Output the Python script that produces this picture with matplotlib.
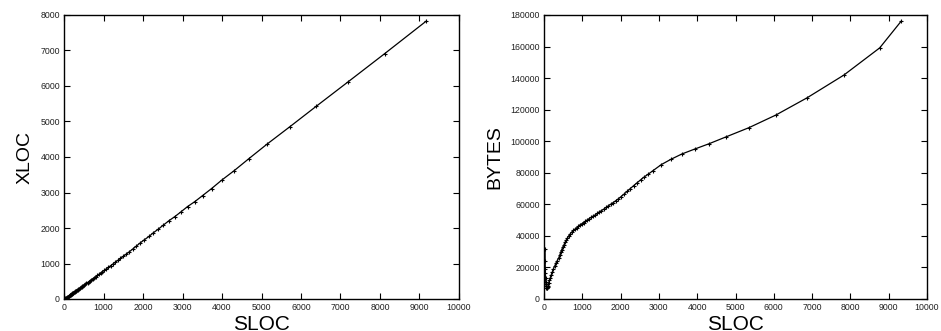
import numpy as np
import matplotlib
matplotlib.use("Agg")
import matplotlib.pyplot as plt

plt.rcParams['font.family'] = ['Liberation Sans', 'DejaVu Sans']

# left panel: SLOC vs XLOC
sloc_x = [15, 28, 40, 53, 65, 78, 90, 103, 115, 128, 140, 153, 165, 178, 190, 203,
          215, 228, 240, 255, 270, 285, 300, 315, 330, 350, 365, 385, 405, 425, 445,
          465, 490, 515, 540, 565, 595, 625, 655, 690, 725, 760, 800, 840, 880, 925,
          970, 1020, 1070, 1125, 1180, 1240, 1300, 1365, 1430, 1500, 1575, 1653, 1737,
          1821, 1922, 2032, 2150, 2260, 2386, 2513, 2664, 2808, 2960, 3128, 3314, 3508,
          3735, 3988, 4309, 4680, 5143, 5717, 6391, 7192, 8120, 9174]
xloc = [8, 16, 24, 33, 42, 52, 61, 70, 80, 89, 99, 108, 118, 128, 137, 148,
        157, 167, 177, 189, 200, 212, 224, 236, 248, 264, 276, 292, 308, 324, 340,
        357, 377, 397, 418, 438, 462, 487, 511, 539, 568, 596, 629, 662, 694, 731,
        767, 808, 849, 894, 939, 988, 1038, 1091, 1145, 1202, 1265, 1330, 1405,
        1480, 1574, 1667, 1761, 1864, 1967, 2080, 2211, 2323, 2454, 2604, 2745, 2913,
        3110, 3344, 3616, 3953, 4365, 4852, 5433, 6117, 6913, 7831]

# right panel: SLOC vs BYTES
sloc_b = [28, 30, 33, 36, 40, 45, 50, 55, 62, 70, 80, 92, 104, 120, 139, 165, 191,
          217, 243, 278, 313, 348, 383, 410, 435, 460, 487, 518, 548, 578, 609, 643,
          678, 720, 765, 808, 852, 895, 939, 987, 1035, 1083, 1130, 1183, 1235, 1287,
          1339, 1391, 1443, 1500, 1557, 1617, 1678, 1743, 1809, 1874, 1939, 2013, 2087,
          2170, 2252, 2339, 2426, 2522, 2617, 2726, 2835, 3061, 3313, 3600, 3939, 4313,
          4765, 5348, 6052, 6870, 7826, 8765, 9330]
nbytes = [32000, 24000, 19000, 16500, 13000, 11000, 9500, 8200, 7200, 6700, 7000, 7600,
          8400, 10000, 11800, 13600, 15400, 17100, 18970, 20800, 22770, 24400, 25930,
          27700, 29510, 31100, 32670, 34200, 35830, 37200, 38570, 39900, 41100, 42300,
          43420, 44300, 45110, 46100, 47010, 47700, 48480, 49300, 50170, 51000, 51850,
          52600, 53330, 54300, 55230, 56000, 56910, 58000, 59020, 60100, 61130, 62300,
          63450, 64900, 66400, 68200, 69980, 71800, 73570, 75500, 77360, 79200, 81150,
          85160, 88530, 91910, 95070, 98440, 102870, 108560, 116570, 127530, 141870,
          159150, 176200]

fig = plt.figure(figsize=(9.41, 3.31), dpi=100)
ax1 = fig.add_axes([64 / 941, 32 / 331, 395 / 941, 284 / 331])
ax2 = fig.add_axes([544 / 941, 32 / 331, 383 / 941, 284 / 331])

ax1.plot(sloc_x, xloc, color='black', linewidth=0.9, marker='+', markersize=3.5,
         markeredgewidth=0.8)
ax2.plot(sloc_b, nbytes, color='black', linewidth=0.9, marker='+', markersize=3.5,
         markeredgewidth=0.8)

ax1.set_xlim(0, 10000)
ax1.set_ylim(0, 8000)
ax1.set_xticks(np.arange(0, 10001, 1000))
ax1.set_yticks(np.arange(0, 8001, 1000))
ax1.set_ylabel('XLOC', fontsize=14, labelpad=5)

ax2.set_xlim(0, 10000)
ax2.set_ylim(0, 180000)
ax2.set_xticks(np.arange(0, 10001, 1000))
ax2.set_yticks(np.arange(0, 180001, 20000))
ax2.set_ylabel('BYTES', fontsize=14, labelpad=5)

for ax in (ax1, ax2):
    ax.set_xlabel('SLOC', fontsize=15, labelpad=2)
    ax.tick_params(direction='in', length=4, width=0.8, labelsize=6.3, pad=3,
                   labelcolor='#222222', top=True, right=True)
    for s in ax.spines.values():
        s.set_linewidth(1.0)

fig.savefig('out.png', dpi=100)
